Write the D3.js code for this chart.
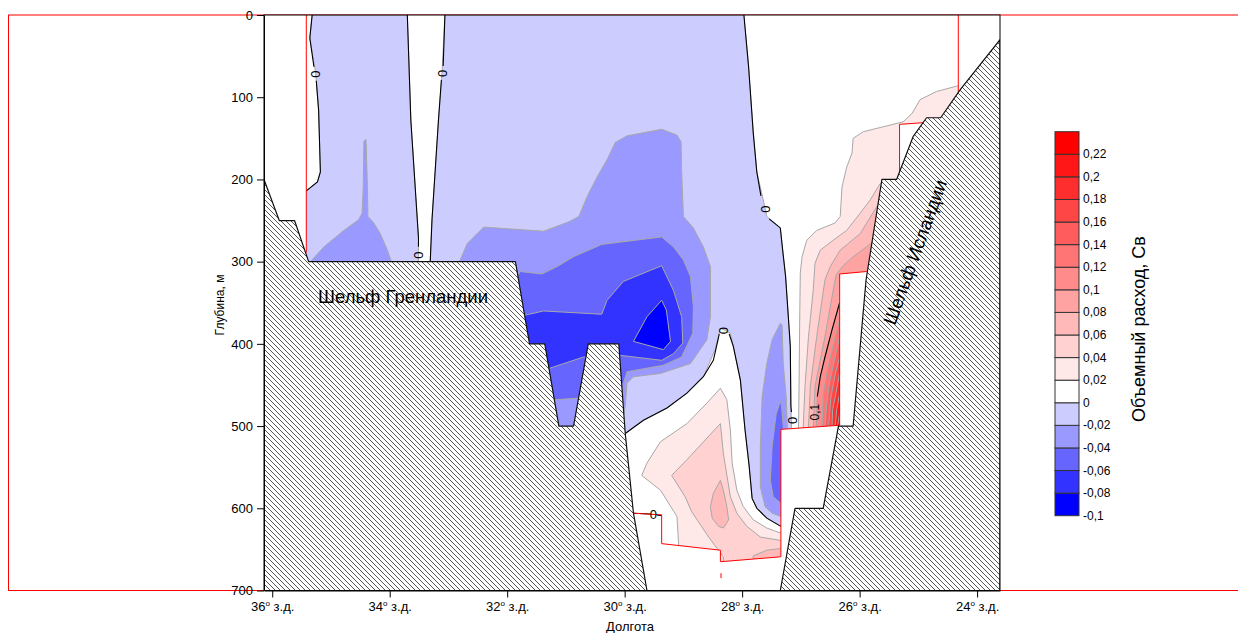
<!DOCTYPE html>
<html>
<head>
<meta charset="utf-8">
<script src="https://cdn.jsdelivr.net/npm/d3@7"></script>
<style>
  body { margin: 0; background: #fff; }
  svg { display: block; font-family: Arial, "Liberation Sans", sans-serif; }
</style>
</head>
<body>
<svg id="chart" width="1238" height="633"></svg>
<script>
// section data: longitude in degrees W, depth in m, transport in Sv
var lonTicks = [36, 34, 32, 30, 28, 26, 24];
var depthTicks = [0, 100, 200, 300, 400, 500, 600, 700];
var legendLevels = [-0.1, -0.08, -0.06, -0.04, -0.02, 0, 0.02, 0.04, 0.06, 0.08, 0.1,
                    0.12, 0.14, 0.16, 0.18, 0.2, 0.22, 0.24];

// bottom profile (hatched)
var bottom = [[36.14,200],[35.88,250],[35.62,250],[35.38,300],[31.86,300],[31.62,400],[31.36,400],
  [31.12,500],[30.87,500],[30.62,400],[30.10,400],[29.99,509],[29.85,606],[29.62,700],[27.35,700],
  [27.10,600],[26.62,600],[26.36,500],[26.11,500],[25.89,322],[25.62,200],[25.37,200],[25.09,148],
  [24.86,125],[24.62,125],[24.29,91],[23.61,30],[23.61,700],[36.14,700]];

// regions with transport <= level (westward flow)
var negRegions = [
  {level: 0, pts: [[35.32,0],[33.70,0],[33.64,128],[33.51,271],[33.51,316],[35.52,316],[35.52,214],
    [35.42,214],[35.23,203],[35.18,191],[35.21,116],[35.26,71],[35.36,28]]},
  {level: 0, pts: [[33.06,0],[27.97,0],[27.89,63],[27.81,144],[27.75,191],[27.64,225],[27.58,245],
    [27.35,259],[27.31,286],[27.26,318],[27.21,371],[27.18,403],[27.17,476],[27.16,502],[27.16,520],
    [27.30,520],[27.32,622],[27.34,622],[27.58,612],[27.75,600],[27.83,588],[27.88,549],[27.95,505],
    [28.03,444],[28.15,403],[28.20,387],[28.31,383],[28.37,381],[28.46,407],[28.66,440],[28.94,460],
    [29.28,478],[29.68,493],[29.99,509],[30.41,663],[33.31,663],[33.31,300],[33.28,249],[33.17,128],[33.11,71]]},
  {level: -0.02, pts: [[35.43,316],[35.35,300],[35.12,282],[34.78,262],[34.53,249],[34.47,241],[34.45,209],
    [34.44,154],[34.41,151],[34.40,156],[34.38,209],[34.37,245],[34.27,253],[34.16,266],[34.04,286],
    [33.97,300],[33.90,316]]},
  {level: -0.02, pts: [[32.97,310],[32.80,298],[32.68,278],[32.40,258],[31.38,263],[30.93,251],[30.78,245],
    [30.64,221],[30.47,197],[30.30,176],[30.16,155],[29.96,147],[29.37,139],[29.11,146],[29.04,154],
    [29.03,189],[29.00,245],[28.83,259],[28.66,282],[28.54,306],[28.54,367],[28.60,395],[28.88,424],
    [29.39,436],[29.85,440],[29.96,448],[29.99,476],[30.04,493],[30.41,517],[31.18,517],[31.44,493]]},
  {level: -0.02, pts: [[27.35,375],[27.49,395],[27.58,424],[27.66,464],[27.69,525],[27.69,574],[27.61,598],
    [27.49,606],[27.34,610],[27.32,610],[27.23,517],[27.23,502],[27.25,464],[27.30,424],[27.32,377]]},
  {level: -0.04, pts: [[31.86,322],[31.78,312],[31.41,315],[31.15,306],[30.87,294],[30.39,279],[29.37,270],
    [29.17,282],[29.00,298],[28.88,318],[28.83,355],[28.84,387],[29.03,416],[29.34,426],[29.96,434],
    [30.02,448],[30.24,456],[30.78,466],[31.18,468],[31.44,468]]},
  {level: -0.04, pts: [[27.35,470],[27.42,485],[27.49,525],[27.52,566],[27.47,586],[27.34,594],[27.30,594],
    [27.30,500],[27.33,475]]},
  {level: -0.06, pts: [[31.78,365],[31.69,365],[31.38,360],[30.39,364],[30.30,347],[30.02,324],[29.37,305],
    [29.17,335],[29.03,367],[29.01,399],[29.17,412],[29.37,420],[30.07,414],[30.70,416],[31.29,430],[31.61,432]]},
  {level: -0.08, pts: [[29.85,397],[29.62,367],[29.37,347],[29.29,359],[29.22,397],[29.34,407]]}
];

// regions with transport >= level (eastward flow)
var posRegions = [
  {level: 0.02, pts: [[24.32,86],[24.69,93],[24.97,103],[25.11,120],[25.26,130],[25.60,136],[25.94,142],
    [26.11,150],[26.13,168],[26.22,185],[26.30,209],[26.33,245],[26.42,253],[26.73,262],[26.90,274],
    [26.98,294],[27.01,314],[27.02,371],[27.03,444],[27.04,502],[27.04,517],[25.82,517],[23.78,103],[24.26,84]]},
  {level: 0.02, pts: [[28.37,454],[28.26,468],[28.20,505],[28.17,545],[28.09,578],[27.98,598],[27.81,614],
    [27.58,624],[27.35,630],[27.18,630],[27.18,711],[29.09,711],[29.08,645],[29.11,610],[29.39,578],
    [29.71,560],[29.62,545],[29.39,519],[28.94,497],[28.60,472]]},
  {level: 0.04, pts: [[25.65,205],[25.82,225],[25.99,241],[26.22,262],[26.45,274],[26.67,286],[26.76,302],
    [26.79,335],[26.87,391],[26.93,452],[26.96,502],[26.96,517],[25.82,517],[25.48,207]]},
  {level: 0.04, pts: [[28.37,497],[28.32,533],[28.20,586],[28.09,606],[27.92,622],[27.69,635],[27.35,639],
    [27.18,639],[27.18,711],[28.32,711],[28.32,659],[28.57,635],[28.86,604],[28.97,586],[29.20,560],[28.94,541]]},
  {level: 0.06, pts: [[25.69,231],[25.99,266],[26.33,286],[26.50,306],[26.59,322],[26.73,391],[26.84,452],
    [26.87,502],[26.87,517],[25.82,517],[25.57,231]]},
  {level: 0.06, pts: [[28.37,566],[28.32,578],[28.26,598],[28.23,614],[28.32,624],[28.40,622],[28.51,612],
    [28.54,598],[28.49,582]]},
  {level: 0.06, pts: [[27.81,658],[27.58,651],[27.35,649],[27.18,649],[27.18,711],[27.86,711]]},
  {level: 0.08, pts: [[25.79,277],[26.11,294],[26.28,305],[26.40,316],[26.45,335],[26.59,391],[26.76,452],
    [26.79,502],[26.79,517],[25.82,517],[25.65,277]]},
  {level: 0.1, pts: [[26.34,350],[26.47,383],[26.59,416],[26.67,440],[26.72,466],[26.74,502],[26.74,517],
    [26.25,517],[26.25,350]]},
  {level: 0.12, pts: [[26.34,371],[26.45,401],[26.55,432],[26.62,462],[26.64,502],[26.64,517],[26.25,517],[26.25,371]]},
  {level: 0.14, pts: [[26.34,392],[26.43,420],[26.52,450],[26.56,474],[26.59,502],[26.59,517],[26.25,517],[26.25,392]]},
  {level: 0.16, pts: [[26.34,416],[26.42,438],[26.49,466],[26.53,502],[26.53,517],[26.25,517],[26.25,416]]},
  {level: 0.18, pts: [[26.34,435],[26.40,459],[26.46,480],[26.47,502],[26.47,517],[26.25,517],[26.25,435]]},
  {level: 0.2, pts: [[26.34,460],[26.39,480],[26.42,502],[26.42,517],[26.25,517],[26.25,460]]},
  {level: 0.22, pts: [[26.34,484],[26.38,502],[26.38,517],[26.25,517],[26.25,484]]}
];

// zero isolines (split where labels sit)
var zeroLines = [
  [[35.32,0],[35.36,28],[35.29,63]],
  [[35.25,80],[35.21,116],[35.18,191],[35.23,203],[35.42,214]],
  [[33.70,0],[33.64,128],[33.51,271],[33.51,282]],
  [[33.06,0],[33.09,62]],
  [[33.12,79],[33.17,128],[33.28,249],[33.31,300]],
  [[27.97,0],[27.89,63],[27.81,144],[27.75,191],[27.68,220]],
  [[27.54,248],[27.35,259],[27.31,286],[27.26,318],[27.21,371],[27.18,403],[27.17,476],[27.16,483]],
  [[29.99,509],[29.68,493],[29.28,478],[28.94,460],[28.66,440],[28.49,420],[28.41,395],[28.39,388]],
  [[28.22,388],[28.15,403],[28.03,444],[27.95,505],[27.88,549],[27.83,588],[27.75,600],[27.58,612],[27.34,622]],
  [[29.85,606],[29.56,607]],
  [[29.45,608],[29.37,609]]
];
var zeroLabelsSide = [[35.27,72],[33.51,292],[33.10,71],[27.61,236],[27.15,493],[28.31,384]];
var zeroLabelsFlat = [[29.51,608]];
var tenthLine = [[26.34,350],[26.47,383],[26.59,416],[26.67,440],[26.72,464]];
var tenthLabel = [26.76,483];

// blanked areas (no data)
var blanks = [
  [[36.3,-10],[35.42,-10],[35.42,300],[36.3,300]],
  [[24.32,-10],[23.5,-10],[23.5,30],[24.29,91],[24.32,94]],
  [[25.32,192],[25.32,133],[24.92,131],[25.09,148]],
  [[27.34,504],[26.34,499],[26.34,315],[25.88,312],[25.5,320],[25.5,700],[29.7,700],[29.87,606],
   [29.37,608],[29.37,643],[28.37,651],[28.37,665],[27.34,659]]
];
var blankEdges = [
  [[35.42,0],[35.42,289]],
  [[24.32,0],[24.32,94]],
  [[25.32,192],[25.32,133],[24.92,131]],
  [[29.85,606],[29.37,608],[29.37,643],[28.37,651],[28.37,665],[27.34,659],[27.34,504],[26.34,499],
   [26.34,315],[25.88,312]],
  [[28.36,679],[28.36,685]]
];

var svg = d3.select("#chart");
var x = d3.scaleLinear().domain([36.14, 23.61]).range([264, 1000]);
var y = d3.scaleLinear().domain([0, 700]).range([15, 590.5]);

function fillFor(level) {
  if (level <= 0) return d3.interpolateRgb("#ffffff", "#0000ff")((1 - level / 0.02) / 5);
  return d3.interpolateRgb("#ffffff", "#ff0000")((level / 0.02) / 11);
}
var line = d3.line().x(function(d) { return x(d[0]); }).y(function(d) { return y(d[1]); });
function poly(d) { return line(d) + "Z"; }

// outer red frame
svg.append("rect").attr("x", 8.5).attr("y", 15).attr("width", 1240).attr("height", 575.5)
  .attr("fill", "none").attr("stroke", "#ff0000");

var defs = svg.append("defs");
defs.append("clipPath").attr("id", "plotclip").append("rect")
  .attr("x", 264).attr("y", 15).attr("width", 736).attr("height", 575.5);
var pat = defs.append("pattern").attr("id", "hatch").attr("patternUnits", "userSpaceOnUse")
  .attr("width", 5).attr("height", 5);
pat.append("rect").attr("width", 5).attr("height", 5).attr("fill", "#fff");
pat.append("path").attr("d", "M0,0L5,5M-1,4L1,6M4,-1L6,1")
  .attr("stroke", "#444").attr("stroke-width", 0.9);

svg.append("rect").attr("x", 264).attr("y", 15).attr("width", 736).attr("height", 575.5).attr("fill", "#fff");

var plot = svg.append("g").attr("clip-path", "url(#plotclip)");

var negSorted = negRegions.slice().sort(function(a, b) { return b.level - a.level; });
var posSorted = posRegions.slice().sort(function(a, b) { return a.level - b.level; });

plot.selectAll("path.band")
  .data(negSorted.concat(posSorted))
  .enter().append("path")
  .attr("class", "band")
  .attr("d", function(d) { return poly(d.pts); })
  .attr("fill", function(d) { return fillFor(d.level); })
  .attr("stroke", "#a8a8a8")
  .attr("stroke-width", 1)
  .attr("stroke-linejoin", "round");

plot.selectAll("path.blank")
  .data(blanks).enter().append("path")
  .attr("class", "blank")
  .attr("d", poly)
  .attr("fill", "#fff");

plot.selectAll("path.zero")
  .data(zeroLines).enter().append("path")
  .attr("d", line).attr("fill", "none").attr("stroke", "#000").attr("stroke-width", 1.1);

plot.append("path").attr("d", line(tenthLine)).attr("fill", "none")
  .attr("stroke", "#000").attr("stroke-width", 1.1);

plot.selectAll("path.redge")
  .data(blankEdges).enter().append("path")
  .attr("d", line).attr("fill", "none").attr("stroke", "#ff0000").attr("stroke-width", 1);

plot.selectAll("text.zl")
  .data(zeroLabelsSide).enter().append("text")
  .attr("transform", function(d) { return "translate(" + x(d[0]) + "," + y(d[1]) + ") rotate(-90)"; })
  .attr("text-anchor", "middle").attr("dominant-baseline", "central")
  .attr("font-size", 13).text("0");
plot.selectAll("text.zf")
  .data(zeroLabelsFlat).enter().append("text")
  .attr("x", function(d) { return x(d[0]); }).attr("y", function(d) { return y(d[1]); })
  .attr("text-anchor", "middle").attr("dominant-baseline", "central")
  .attr("font-size", 13).text("0");
plot.append("text")
  .attr("transform", "translate(" + x(tenthLabel[0]) + "," + y(tenthLabel[1]) + ") rotate(-90)")
  .attr("text-anchor", "middle").attr("dominant-baseline", "central")
  .attr("font-size", 12).text("0,1");

plot.append("path").attr("d", poly(bottom))
  .attr("fill", "url(#hatch)").attr("stroke", "#111").attr("stroke-width", 1.2)
  .attr("stroke-linejoin", "round");

// frame
svg.append("rect").attr("x", 264).attr("y", 15).attr("width", 736).attr("height", 575.5)
  .attr("fill", "none").attr("stroke", "#000").attr("stroke-width", 1);

// axes
var yAxis = svg.append("g").attr("transform", "translate(264,0)")
  .call(d3.axisLeft(y).tickValues(depthTicks).tickSize(7).tickSizeOuter(0).tickPadding(4));
yAxis.attr("font-size", 13).attr("font-family", null);
yAxis.selectAll("line, path").attr("stroke", "#000");

var xAxis = svg.append("g").attr("transform", "translate(0,590.5)")
  .call(d3.axisBottom(x).tickValues(lonTicks).tickSize(7).tickSizeOuter(0).tickPadding(4).tickFormat(""));
xAxis.attr("font-size", 13).attr("font-family", null);
xAxis.selectAll("line, path").attr("stroke", "#000");
xAxis.selectAll(".tick text").each(function(d) {
  var t = d3.select(this).text(null);
  t.append("tspan").text(d);
  t.append("tspan").attr("font-size", 8).attr("dy", -5).text("o");
  t.append("tspan").attr("dy", 5).text(" з.д.");
});

svg.append("text").attr("transform", "translate(224,305) rotate(-90)")
  .attr("text-anchor", "middle").attr("font-size", 12).text("Глубина, м");
svg.append("text").attr("x", 630).attr("y", 631)
  .attr("text-anchor", "middle").attr("font-size", 13).text("Долгота");

svg.append("text").attr("x", 403).attr("y", 303)
  .attr("text-anchor", "middle").attr("font-size", 18.5).text("Шельф Гренландии");
svg.append("text").attr("transform", "translate(915,252) rotate(-70)")
  .attr("text-anchor", "middle").attr("dominant-baseline", "central")
  .attr("font-size", 18.5).text("Шельф Исландии");

// legend
var ly = d3.scaleLinear().domain([-0.1, 0.24]).range([515.7, 131.7]);
var bands = d3.pairs(legendLevels);
var legend = svg.append("g");
legend.selectAll("rect").data(bands).enter().append("rect")
  .attr("x", 1055).attr("width", 24)
  .attr("y", function(d) { return ly(d[1]); })
  .attr("height", function(d) { return ly(d[0]) - ly(d[1]); })
  .attr("fill", function(d) {
    if (d[1] <= 0.0001) return fillFor(d[1]);
    if (d[0] < 0.0001) return "#ffffff";
    return fillFor(d[0]);
  })
  .attr("stroke", "#333").attr("stroke-width", 1);
legend.selectAll("text").data(legendLevels.slice(0, -1)).enter().append("text")
  .attr("x", 1083).attr("y", function(d) { return ly(d); })
  .attr("dominant-baseline", "central").attr("font-size", 12)
  .text(function(d) { return String(+d.toFixed(2)).replace(".", ","); });
svg.append("text").attr("transform", "translate(1139,329) rotate(-90)")
  .attr("text-anchor", "middle").attr("dominant-baseline", "central")
  .attr("font-size", 18).text("Объемный расход, Св");
</script>
</body>
</html>
